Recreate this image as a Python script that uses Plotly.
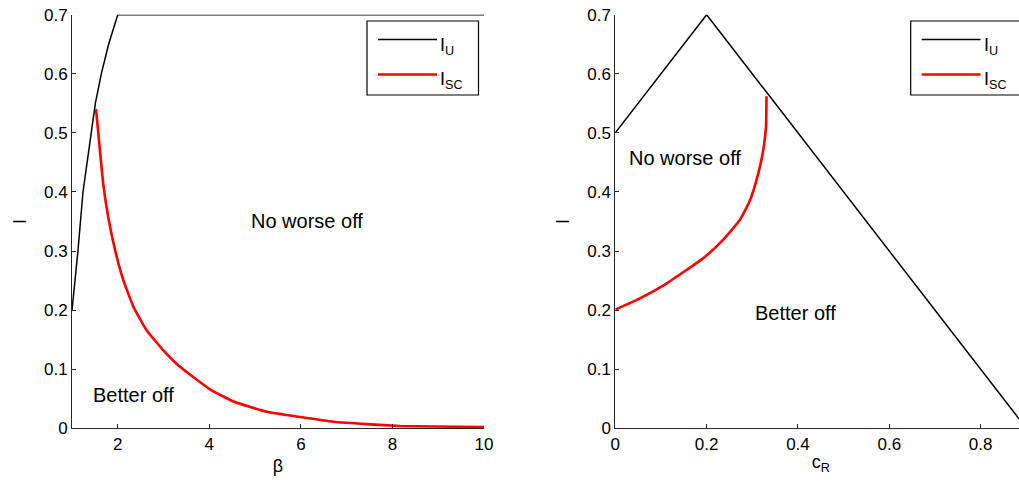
import plotly.graph_objects as go

# ---------------- data ----------------
beta_IU = [1.0, 1.13, 1.24, 1.41, 1.51, 1.64, 1.80, 2.0, 10.0]
I_U_beta = [0.2, 0.3, 0.4, 0.5, 0.55, 0.6, 0.65, 0.7, 0.7]

beta_ISC = [1.524, 1.61, 1.68, 1.79, 1.94, 2.12, 2.34, 2.63, 2.99, 3.36,
            4.03, 4.54, 5.26, 5.99, 6.72, 7.44, 8.17, 8.9, 10.0]
I_SC_beta = [0.540, 0.471, 0.415, 0.358, 0.302, 0.251, 0.206, 0.166, 0.1325, 0.104,
             0.065, 0.045, 0.028, 0.019, 0.011, 0.007, 0.004, 0.003, 0.002]

cR_IU = [0.0, 0.2, 0.9]
I_U_cR = [0.5, 0.7, 0.0]

cR_ISC = [0.0, 0.054, 0.112, 0.156, 0.193, 0.236, 0.273, 0.295, 0.313, 0.324,
          0.330, 0.331, 0.331]
I_SC_cR = [0.201, 0.22, 0.245, 0.268, 0.288, 0.319, 0.353, 0.386, 0.431, 0.471,
           0.510, 0.556, 0.562]

y_ticks = [0, 0.1, 0.2, 0.3, 0.4, 0.5, 0.6, 0.7]
beta_ticks = [2, 4, 6, 8, 10]
cR_ticks = [0, 0.2, 0.4, 0.6, 0.8]

# ---------------- layout helpers ----------------
# positions are given in window pixels; the page body margin is removed
# by a small post-script so the figure sits at the window origin
W, H = 1030, 489
def px(x):
    return x / W
def py(y):
    return 1 - y / H

FONT = "Liberation Sans, Arial, Helvetica, sans-serif"
AX = "#262626"
RED = "#ff0000"

fig = go.Figure()
fig.add_trace(go.Scatter(x=beta_IU, y=I_U_beta, mode="lines", line=dict(color="black", width=1.5),
                         xaxis="x", yaxis="y", showlegend=False, name="I_U"))
fig.add_trace(go.Scatter(x=beta_ISC, y=I_SC_beta, mode="lines",
                         line=dict(color=RED, width=2.6, shape="spline", smoothing=0.4),
                         xaxis="x", yaxis="y", showlegend=False, name="I_SC"))
fig.add_trace(go.Scatter(x=cR_IU, y=I_U_cR, mode="lines", line=dict(color="black", width=1.5),
                         xaxis="x2", yaxis="y2", showlegend=False, name="I_U"))
fig.add_trace(go.Scatter(x=cR_ISC, y=I_SC_cR, mode="lines",
                         line=dict(color=RED, width=2.6, shape="spline", smoothing=0.5),
                         xaxis="x2", yaxis="y2", showlegend=False, name="I_SC"))

ydom = [py(428.3), py(14.7)]
axis_common = dict(showline=True, linecolor=AX, linewidth=1, mirror=False,
                   ticks="inside", ticklen=4, tickcolor=AX, showgrid=False,
                   zeroline=False, tickfont=dict(family=FONT, size=17, color="black"),
                   ticklabeloverflow="allow", automargin=False)

fig.update_layout(
    width=W, height=H,
    margin=dict(l=0, r=0, t=0, b=0),
    paper_bgcolor="white", plot_bgcolor="white",
    font=dict(family=FONT, color="black"),
    showlegend=False,
    xaxis=dict(domain=[px(72.0), px(484.0)], range=[1, 10], tickvals=beta_ticks,
               anchor="y", title=dict(text="β", font=dict(size=18), standoff=6), **axis_common),
    yaxis=dict(domain=ydom, range=[0, 0.7], tickvals=y_ticks, anchor="x",
               title=dict(text="I", font=dict(size=18), standoff=12), **axis_common),
    xaxis2=dict(domain=[px(615.3), px(1026.3)], range=[0, 0.9], tickvals=cR_ticks,
                anchor="y2", title=dict(text="c<sub>R</sub>", font=dict(size=18), standoff=2), **axis_common),
    yaxis2=dict(domain=ydom, range=[0, 0.7], tickvals=y_ticks, anchor="x2",
                title=dict(text="I", font=dict(size=18), standoff=12), **axis_common),
)

# region labels
ann_font = dict(family=FONT, size=20, color="black")
fig.add_annotation(x=6.14, y=0.351, xref="x", yref="y", text="No worse off",
                   showarrow=False, font=ann_font)
fig.add_annotation(x=2.35, y=0.0564, xref="x", yref="y", text="Better off",
                   showarrow=False, font=ann_font)
fig.add_annotation(x=0.1526, y=0.458, xref="x2", yref="y2", text="No worse off",
                   showarrow=False, font=ann_font)
fig.add_annotation(x=0.3935, y=0.1946, xref="x2", yref="y2", text="Better off",
                   showarrow=False, font=ann_font)

# legends (drawn boxes)
def legend(x0, x1, top, bottom, lx0, lx1, tx):
    fig.add_shape(type="rect", xref="paper", yref="paper",
                  x0=px(x0), x1=px(x1), y0=py(bottom), y1=py(top),
                  line=dict(color="black", width=1.2), fillcolor="white", layer="above")
    fig.add_shape(type="line", xref="paper", yref="paper",
                  x0=px(lx0), x1=px(lx1), y0=py(39.5), y1=py(39.5),
                  line=dict(color="black", width=1.5), layer="above")
    fig.add_shape(type="line", xref="paper", yref="paper",
                  x0=px(lx0), x1=px(lx1), y0=py(74.5), y1=py(74.5),
                  line=dict(color=RED, width=2.6), layer="above")
    fig.add_annotation(x=px(tx), y=py(33), xref="paper", yref="paper",
                       text="I<sub>U</sub>", showarrow=False, xanchor="left", yanchor="top",
                       font=dict(family=FONT, size=18, color="black"))
    fig.add_annotation(x=px(tx), y=py(67), xref="paper", yref="paper",
                       text="I<sub>SC</sub>", showarrow=False, xanchor="left", yanchor="top",
                       font=dict(family=FONT, size=18, color="black"))

legend(367, 478.5, 21, 95, 378, 437, 438)
legend(910.7, 1022, 21, 95, 921.7, 980.5, 982)

fig.write_html("out.html", config={"displayModeBar": False},
               post_script="document.body.style.margin='0';")
